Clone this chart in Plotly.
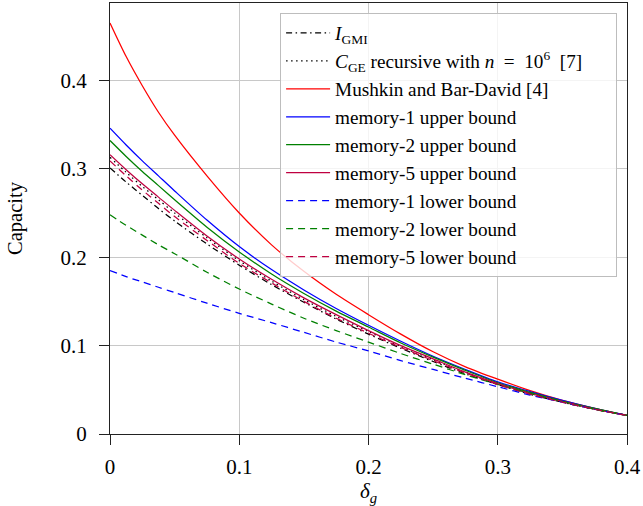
import plotly.graph_objects as go

delta_g = [0.0, 0.0125, 0.025, 0.0375, 0.05, 0.075, 0.1, 0.125, 0.15, 0.175, 0.2, 0.225, 0.25, 0.275, 0.3, 0.325, 0.35, 0.375, 0.4]

i_gmi =      [0.301, 0.285, 0.270, 0.255, 0.241, 0.215, 0.191, 0.169, 0.149, 0.130, 0.113, 0.097, 0.082, 0.068, 0.056, 0.045, 0.036, 0.028, 0.021]
c_ge =       [0.313, 0.296, 0.280, 0.265, 0.250, 0.222, 0.196, 0.173, 0.152, 0.133, 0.116, 0.099, 0.084, 0.070, 0.057, 0.046, 0.036, 0.028, 0.021]
mushkin =    [0.465, 0.427, 0.394, 0.364, 0.338, 0.292, 0.250, 0.214, 0.184, 0.158, 0.135, 0.113, 0.093, 0.076, 0.062, 0.049, 0.038, 0.029, 0.021]
mem1_upper = [0.346, 0.327, 0.309, 0.292, 0.275, 0.242, 0.212, 0.186, 0.163, 0.142, 0.123, 0.105, 0.088, 0.073, 0.059, 0.048, 0.038, 0.029, 0.021]
mem2_upper = [0.332, 0.314, 0.297, 0.281, 0.265, 0.234, 0.206, 0.181, 0.159, 0.139, 0.121, 0.103, 0.087, 0.072, 0.058, 0.047, 0.037, 0.029, 0.021]
mem5_upper = [0.316, 0.299, 0.283, 0.268, 0.253, 0.224, 0.198, 0.175, 0.154, 0.135, 0.117, 0.100, 0.085, 0.070, 0.057, 0.046, 0.037, 0.028, 0.021]
mem1_lower = [0.185, 0.178, 0.172, 0.166, 0.160, 0.148, 0.1365, 0.126, 0.115, 0.104, 0.094, 0.083, 0.073, 0.063, 0.0535, 0.044, 0.036, 0.028, 0.021]
mem2_lower = [0.248, 0.236, 0.225, 0.214, 0.204, 0.183, 0.164, 0.147, 0.131, 0.117, 0.104, 0.091, 0.079, 0.067, 0.056, 0.046, 0.037, 0.028, 0.021]
mem5_lower = [0.309, 0.292, 0.276, 0.261, 0.246, 0.219, 0.193, 0.171, 0.150, 0.131, 0.114, 0.098, 0.083, 0.069, 0.056, 0.045, 0.036, 0.028, 0.021]

x_ticks = [0, 0.1, 0.2, 0.3, 0.4]
x_tick_text = ["0", "0.1", "0.2", "0.3", "0.4"]
y_ticks = [0, 0.1, 0.2, 0.3, 0.4]
y_tick_text = ["0", "0.1", "0.2", "0.3", "0.4"]

RED = "#ff0000"
BLUE = "#0000ff"
GREEN = "#008000"
PURPLE = "#bf0040"

DASHED = "7px,5px"
series = [
    ("<i>I</i><sub>GMI</sub>", i_gmi, "black", "6px,3.5px,1.5px,3.5px"),
    ("<i>C</i><sub>GE</sub> recursive with <i>n</i>\u2002=\u200210<sup>6</sup>\u2002[7]\u2003\u2002", c_ge, "black", "1.5px,3.5px"),
    ("Mushkin and Bar-David [4]", mushkin, RED, "solid"),
    ("memory-1 upper bound", mem1_upper, BLUE, "solid"),
    ("memory-2 upper bound", mem2_upper, GREEN, "solid"),
    ("memory-5 upper bound", mem5_upper, PURPLE, "solid"),
    ("memory-1 lower bound", mem1_lower, BLUE, DASHED),
    ("memory-2 lower bound", mem2_lower, GREEN, DASHED),
    ("memory-5 lower bound", mem5_lower, PURPLE, DASHED),
]

fig = go.Figure()
for name, vals, color, dash in series:
    fig.add_trace(go.Scatter(
        x=delta_g, y=vals, mode="lines", name=name,
        line=dict(color=color, width=1.25, dash=dash, shape="spline", smoothing=0.8),
    ))

FONT = "Liberation Serif"
fig.update_layout(
    width=643, height=506,
    margin=dict(l=110, r=16, t=3, b=72, autoexpand=False),
    paper_bgcolor="white", plot_bgcolor="white",
    font=dict(family=FONT, size=21, color="black"),
    showlegend=True,
    legend=dict(
        x=0.329, y=0.977, xanchor="left", yanchor="top",
        bgcolor="rgba(255,255,255,0.8)", bordercolor="#bdbdbd", borderwidth=1,
        font=dict(family=FONT, size=19.2, color="black"),
        tracegroupgap=0, itemwidth=44,
    ),
    xaxis=dict(
        range=[0, 0.4], tickvals=x_ticks, ticktext=x_tick_text,
        showgrid=True, gridcolor="#c8c8c8", gridwidth=1,
        showline=True, linecolor="#222", linewidth=1.2, mirror=True,
        ticks="outside", ticklen=10, tickcolor="#222", ticklabelstandoff=4,
        zeroline=False, automargin=False,
        title=dict(text="<i>δ</i><sub><i>g</i></sub>", font=dict(size=21), standoff=4),
    ),
    yaxis=dict(
        range=[0, 0.4876], tickvals=y_ticks, ticktext=y_tick_text,
        showgrid=True, gridcolor="#c8c8c8", gridwidth=1,
        showline=True, linecolor="#222", linewidth=1.2, mirror=True,
        ticks="outside", ticklen=10, tickcolor="#222", ticklabelstandoff=8,
        zeroline=False, automargin=False,
        title=dict(text="Capacity", font=dict(size=20.5), standoff=32),
    ),
)

fig.write_html("out.html", config={"displayModeBar": False},
               post_script="document.body.style.margin='0';")
